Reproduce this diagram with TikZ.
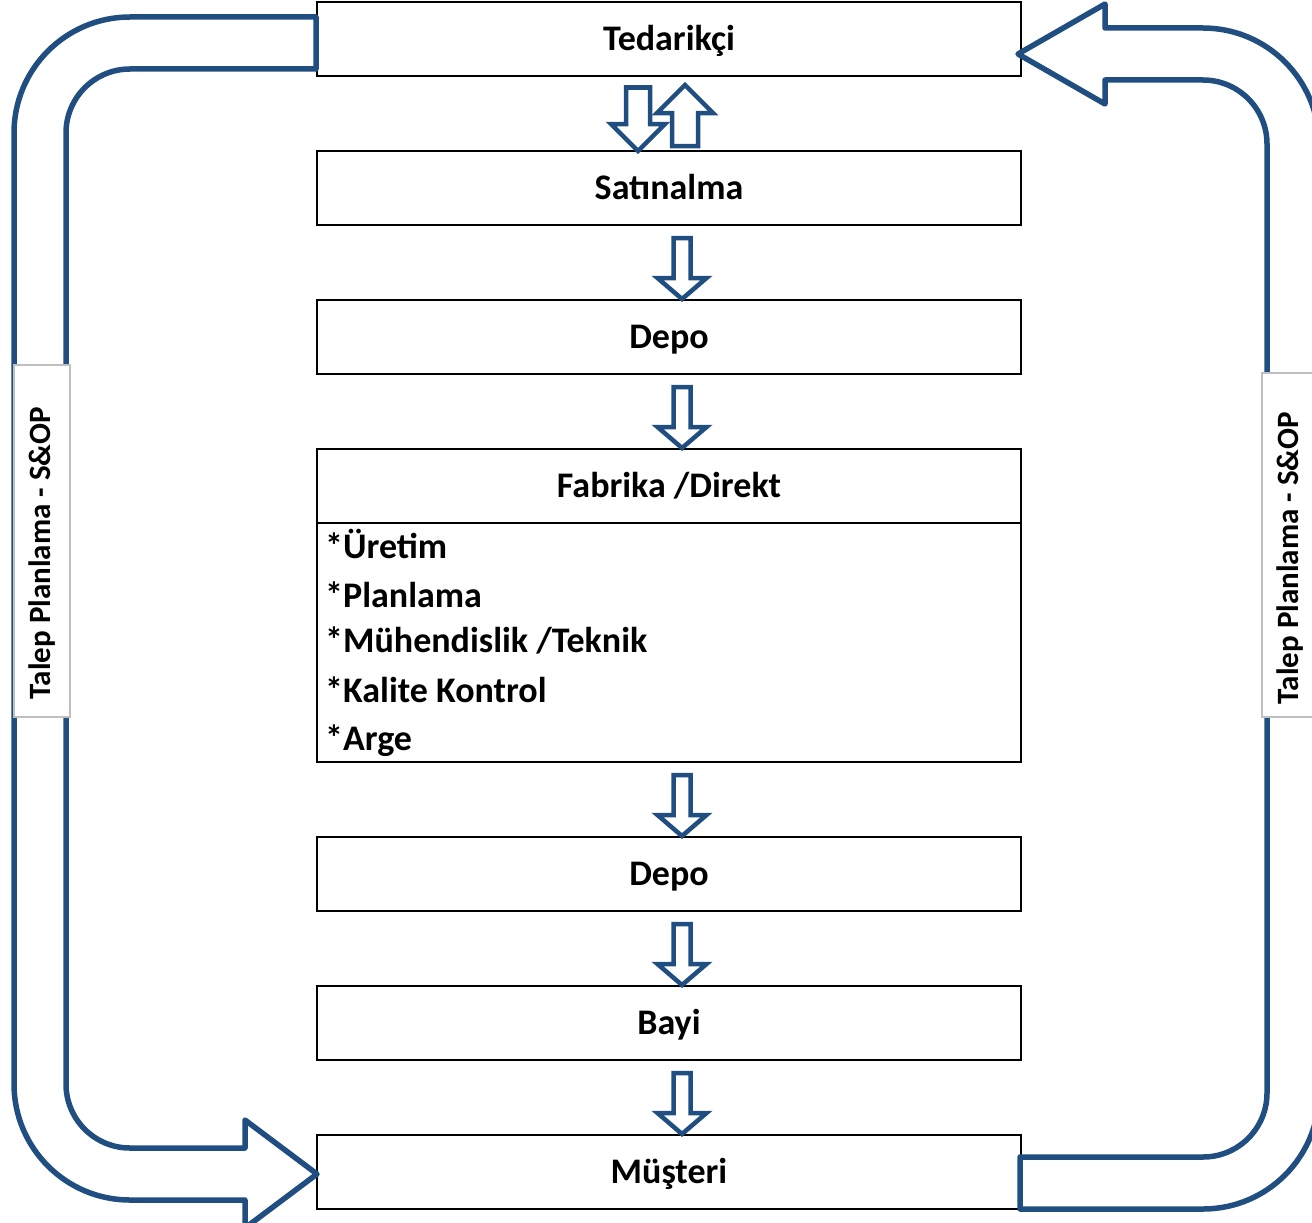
\documentclass[tikz,border=0pt]{standalone}
\usepackage{fontspec}
\setmainfont{Carlito}
\usetikzlibrary{positioning,calc}
\definecolor{arrowblue}{RGB}{32,78,128}
\definecolor{labelgray}{RGB}{191,191,191}

% block arrow: from, shift, to, shift, shaft half width, head half width, head length
\newcommand{\flowarrow}[7]{%
	\coordinate (ft) at ($(#1)+(#2)$);
	\coordinate (fp) at ($(#3)+(#4)$);
	\coordinate (fh) at ($(fp)!#7!(ft)$);
	\draw[blockarrow] ($(ft)!#5!90:(fp)$) -- ($(fh)!#5!90:(fp)$) -- ($(fh)!#6!90:(fp)$) -- (fp)
		-- ($(fh)!#6!-90:(fp)$) -- ($(fh)!#5!-90:(fp)$) -- ($(ft)!#5!-90:(fp)$) -- cycle;}
\newcommand{\flowdown}[2]{\flowarrow{#1.south}{13,13}{#2.north}{13,-1}{8.5pt}{24.5pt}{21pt}}

\begin{document}
\begin{tikzpicture}[x=1pt,y=-1pt,node distance=75pt]
	\useasboundingbox (0,0) rectangle (1312,1223);
	\tikzstyle{box}=[draw=black,line width=2pt,minimum width=704pt,minimum height=74pt,inner sep=0pt,outer sep=0pt,text height=23pt,text depth=0pt,font=\fontsize{36}{42}\selectfont\bfseries]
	\tikzstyle{entry}=[anchor=base west,inner sep=0pt,font=\fontsize{36}{42}\selectfont\bfseries]
	\tikzstyle{blockarrow}=[draw=arrowblue,fill=white,line width=4.5pt]
	\tikzstyle{bigarrow}=[draw=arrowblue,fill=white,line width=5.5pt,line join=round]
	\tikzstyle{sidelabel}=[draw=labelgray,fill=white,line width=2.5pt,rotate=90,minimum height=56pt,inner sep=0pt,font=\fontsize{31}{36}\selectfont\bfseries]

	\node[box] (tedarikci) at (669,39) {Tedarikçi};
	\node[box, below=of tedarikci] (satinalma) {Satınalma};
	\node[box, below=of satinalma] (depo1) {Depo};
	\node[box, below=of depo1] (fabrika) {Fabrika /Direkt};
	\node[box, below=0pt of fabrika, minimum height=239pt] (fablist) {};
	\node[box, below=of fablist] (depo2) {Depo};
	\node[box, below=of depo2] (bayi) {Bayi};
	\node[box, below=of bayi] (musteri) {Müşteri};

	\foreach \txt/\dy [count=\i] in {{*Üretim}/35, {*Planlama}/84, {*Mühendislik /Teknik}/129, {*Kalite Kontrol}/179, {*Arge}/227}
		\node[entry] (entry\i) at ($(fablist.north west)+(8,\dy)$) {\txt};

	\flowarrow{tedarikci.south}{-31,11.5}{satinalma.north}{-31,0}{12pt}{27pt}{27pt}
	\flowarrow{satinalma.north}{16,-5}{tedarikci.south}{16,9}{13pt}{28pt}{28pt}
	\flowdown{satinalma}{depo1}
	\flowdown{depo1}{fabrika}
	\flowdown{fablist}{depo2}
	\flowdown{depo2}{bayi}
	\flowdown{bayi}{musteri}

	% planning loops
	\draw[bigarrow] ($(tedarikci.west)+(-1,-22)$) -- (130,17) arc[start angle=270,end angle=180,radius=116]
		-- (14,1084) arc[start angle=180,end angle=90,radius=116] -- (245,1200) -- (245,1228)
		-- ($(musteri.west)+(0,2)$) -- (245,1120) -- (245,1148) -- (130,1148)
		arc[start angle=90,end angle=180,radius=64] -- (66,133) arc[start angle=180,end angle=270,radius=64]
		-- ($(tedarikci.west)+(-1,30)$) -- cycle;
	\draw[bigarrow] ($(tedarikci.east)+(-3,15)$) -- (1105,4) -- (1105,28) -- (1203,28)
		arc[start angle=270,end angle=360,radius=116] -- (1319,1093) arc[start angle=0,end angle=90,radius=116]
		-- ($(musteri.east)+(-1,37)$) -- ($(musteri.east)+(-1,-15)$) -- (1203,1157)
		arc[start angle=90,end angle=0,radius=64] -- (1267,144) arc[start angle=0,end angle=-90,radius=64]
		-- (1105,80) -- (1105,104) -- cycle;

	\node[sidelabel, minimum width=352pt] (leftlabel) at (42,541) {Talep Planlama - S\&OP\hspace*{24pt}};
	\node[sidelabel, minimum width=344pt] (rightlabel) at (1290,545) {Talep Planlama - S\&OP\hspace*{26pt}};
\end{tikzpicture}
\end{document}
